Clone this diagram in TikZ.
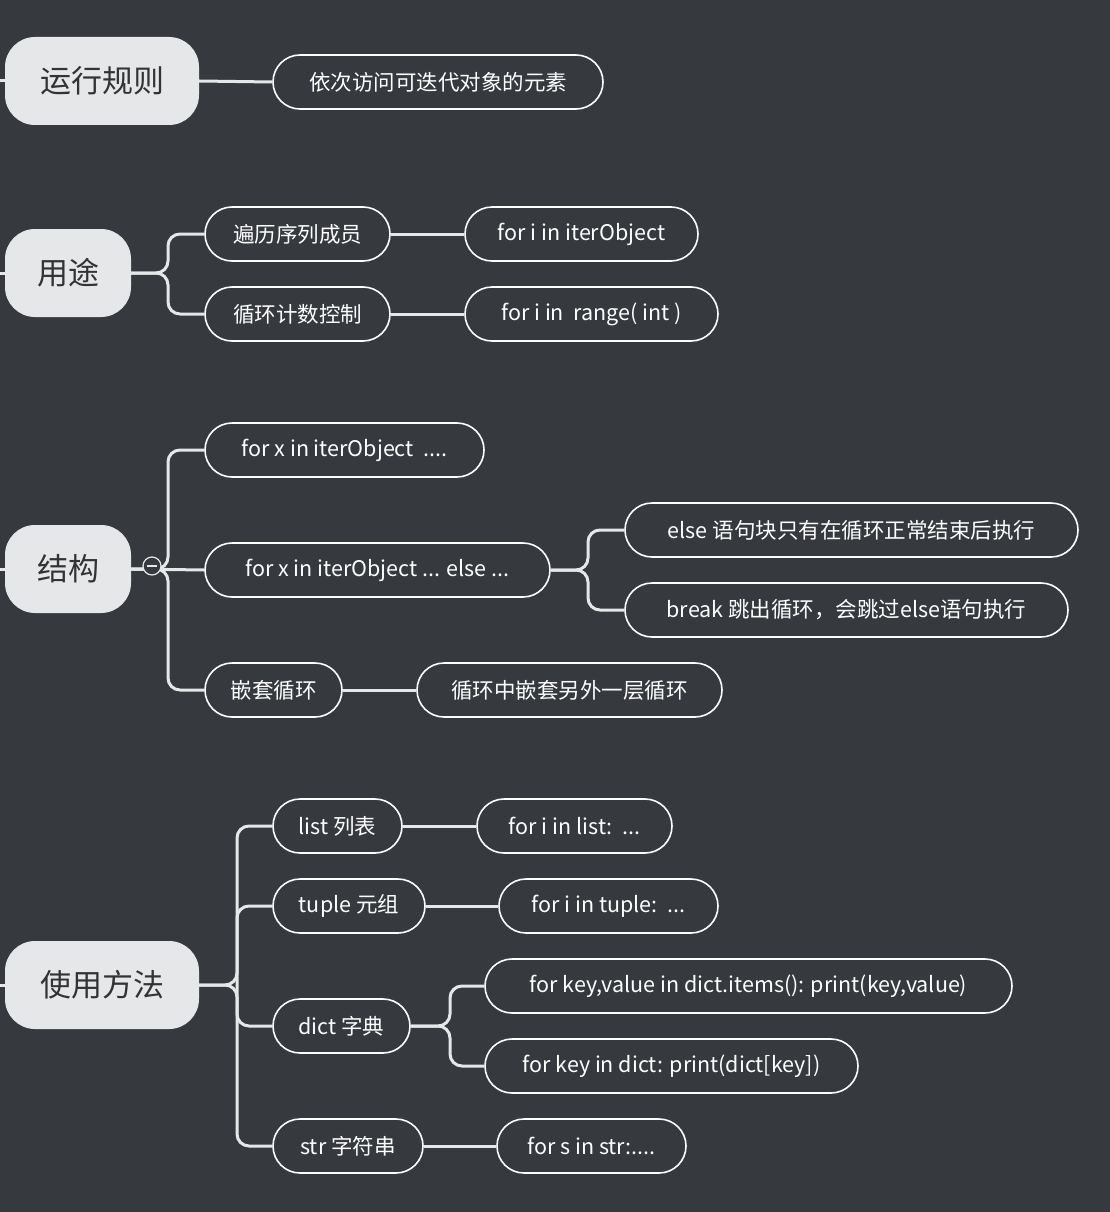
\documentclass[tikz,border=0pt]{standalone}
\usepackage{fontspec}
\setmainfont{Noto Sans CJK SC}
\begin{document}
\begin{tikzpicture}[x=1pt,y=-1pt,
  main/.style={draw=none,fill=maincol,text=maintext,rounded corners=30pt,minimum height=88pt,font=\fontsize{31}{31}\selectfont,inner sep=0pt},
  sub/.style={draw=white,line width=1.6pt,fill=bg,text=white,rounded corners=27pt,minimum height=54pt,font=\fontsize{21.5}{21.5}\selectfont,inner sep=0pt},
  edge/.style={draw=edgecol,line width=3pt,rounded corners=12pt}]
\definecolor{bg}{HTML}{36393D}
\definecolor{maincol}{HTML}{E6E7E8}
\definecolor{maintext}{HTML}{333333}
\definecolor{edgecol}{HTML}{E6E7E8}
\fill[bg] (0,0) rectangle (1110,1212);
\useasboundingbox (0,0) rectangle (1110,1212);
% main nodes
\node[main,minimum width=194pt] (rule) at (102,81) {运行规则};
\node[main,minimum width=126pt] (yt) at (68,273) {用途};
\node[main,minimum width=126pt] (jg) at (68,569) {结构};
\node[main,minimum width=194pt] (sy) at (102,985) {使用方法};
\coordinate (l1) at (0,81); \coordinate (l2) at (0,273);
\coordinate (l3) at (0,569); \coordinate (l4) at (0,985);
\foreach \a/\b in {l1/rule,l2/yt,l3/jg,l4/sy} \draw[edge] (\a) -- (\b.west);
% sub nodes
\node[sub,minimum width=330pt] (rd) at (438,82) {依次访问可迭代对象的元素};
\node[sub,minimum width=185pt] (b1) at (297.5,234) {遍历序列成员};
\node[sub,minimum width=233pt] (b1a) at (581.5,234) {for i in iterObject};
\node[sub,minimum width=185pt] (b2) at (297.5,314) {循环计数控制};
\node[sub,minimum width=253pt] (b2a) at (591.5,314) {for i in\ \ range( int )};
\node[sub,minimum width=279pt] (c1) at (344.5,450) {for x in iterObject\ \ ....};
\node[sub,minimum width=345pt] (c2) at (377.5,570) {for x in iterObject ... else ...};
\node[sub,minimum width=453pt] (c2a) at (851.5,530) {else 语句块只有在循环正常结束后执行};
\node[sub,minimum width=443pt] (c2b) at (846.5,610) {break 跳出循环，会跳过else语句执行};
\node[sub,minimum width=137pt] (c3) at (273.5,690) {嵌套循环};
\node[sub,minimum width=305pt] (c3a) at (569.5,690) {循环中嵌套另外一层循环};
\node[sub,minimum width=129pt] (d1) at (337.5,826) {list 列表};
\node[sub,minimum width=195pt] (d1a) at (574.5,826) {for i in list:\ \ ...};
\node[sub,minimum width=152pt] (d2) at (349,906) {tuple 元组};
\node[sub,minimum width=219pt] (d2a) at (608.5,906) {for i in tuple:\ \ ...};
\node[sub,minimum width=137pt] (d3) at (341.5,1026) {dict 字典};
\node[sub,minimum width=527pt] (d3a) at (748.5,986) {for key,value in dict.items(): print(key,value)};
\node[sub,minimum width=373pt] (d3b) at (671.5,1066) {for key in dict: print(dict[key])};
\node[sub,minimum width=150pt] (d4) at (348,1146) {str 字符串};
\node[sub,minimum width=189pt] (d4a) at (591.5,1146) {for s in str:....};
% edges
\draw[edge] (rule.east) -- (rd.west);
\draw[edge] (yt.east) -- (168,273) |- (b1.west);
\draw[edge] (yt.east) -- (168,273) |- (b2.west);
\draw[edge] (b1.east) -- (b1a.west);
\draw[edge] (b2.east) -- (b2a.west);
\draw[edge] (jg.east) -- (168,569) |- (c1.west);
\draw[edge] (jg.east) -- (168,569) |- (c3.west);
\draw[edge] (jg.east) -- (c2.west);
\draw[edge] (c2.east) -- (588,570) |- (c2a.west);
\draw[edge] (c2.east) -- (588,570) |- (c2b.west);
\draw[edge] (c3.east) -- (c3a.west);
\node[circle,draw=edgecol,line width=1.2pt,fill=bg,minimum size=18pt,inner sep=0pt] (col) at (152,566) {};
\draw[edgecol,line width=1.2pt] ([xshift=-5pt]col.center) -- ([xshift=5pt]col.center);
\draw[edge] (sy.east) -- (237,985) |- (d1.west);
\draw[edge] (sy.east) -- (237,985) |- (d4.west);
\draw[edge] (237,985) |- (d2.west);
\draw[edge] (237,985) |- (d3.west);
\draw[edge] (d1.east) -- (d1a.west);
\draw[edge] (d2.east) -- (d2a.west);
\draw[edge] (d3.east) -- (450,1026) |- (d3a.west);
\draw[edge] (d3.east) -- (450,1026) |- (d3b.west);
\draw[edge] (d4.east) -- (d4a.west);
\end{tikzpicture}
\end{document}
